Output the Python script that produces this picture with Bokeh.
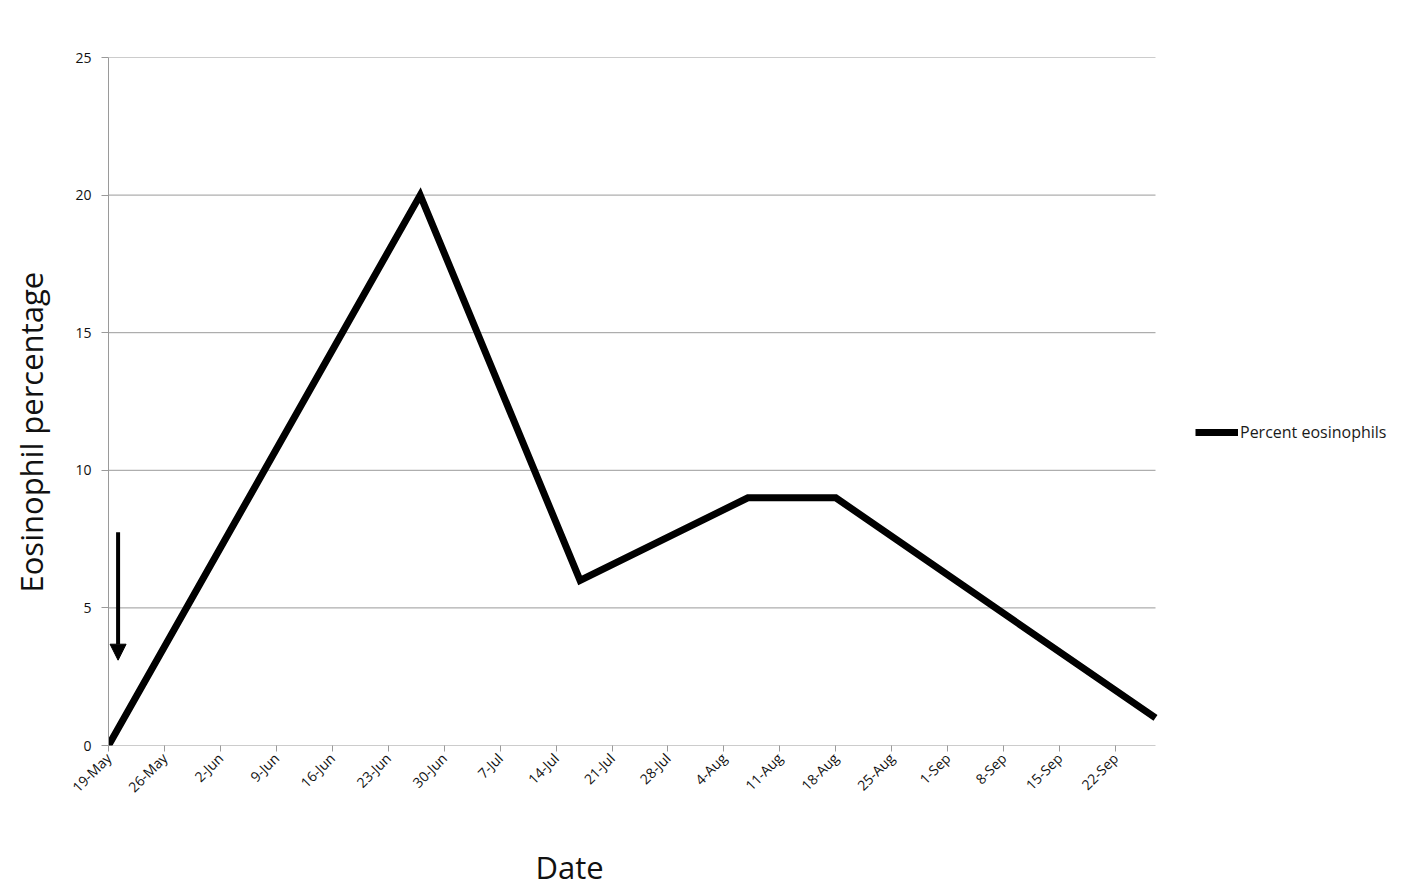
import pandas as pd
from bokeh.plotting import figure
from bokeh.models import (FixedTicker, Legend, LegendItem, Arrow, NormalHead,
                          Range1d, Title)
from bokeh.embed import file_html
from bokeh.resources import INLINE

YEAR = "2014"
dates = ["19-May", "27-Jun", "17-Jul", "7-Aug", "18-Aug", "27-Sep"]
percent = [0, 20, 6, 9, 9, 1]
tick_labels = ["19-May", "26-May", "2-Jun", "9-Jun", "16-Jun", "23-Jun", "30-Jun",
               "7-Jul", "14-Jul", "21-Jul", "28-Jul", "4-Aug", "11-Aug", "18-Aug",
               "25-Aug", "1-Sep", "8-Sep", "15-Sep", "22-Sep"]
y_ticks = [0, 5, 10, 15, 20, 25]
# treatment arrow (date offset in days from first date, y start, y end)
arrow_day = 1.2
arrow_y = [7.75, 3.1]

FONT = "Open Sans"
GRID = "#9a9a9a"

# layout (pixels)
W, H = 1410, 896
LEFT, TOP, RIGHT_AXIS_END, BOTTOM = 108, 57, 1155, 745
RIGHT_BORDER = 8


def to_dt(s):
    return pd.to_datetime(s + "-" + YEAR, format="%d-%b-%Y")


x = [to_dt(d) for d in dates]
tick_ms = [to_dt(t).value / 1e6 for t in tick_labels]
x0_ms = x[0].value / 1e6
x1_ms = x[-1].value / 1e6
frame_w = W - RIGHT_BORDER - LEFT
# extend the frame to the right so the legend can sit inside it
x_end_ms = x0_ms + (x1_ms - x0_ms) * frame_w / (RIGHT_AXIS_END - LEFT)

p = figure(width=W, height=H, x_axis_type="datetime",
           output_backend="svg", toolbar_location=None,
           min_border_left=LEFT, min_border_right=RIGHT_BORDER,
           min_border_top=TOP, min_border_bottom=H - BOTTOM)
p.x_range = Range1d(x0_ms, x_end_ms)
p.y_range = Range1d(0, 25)
p.outline_line_color = None
p.xgrid.grid_line_color = None
p.ygrid.grid_line_color = None

# horizontal gridlines and x axis line, limited to the date span
p.segment(x0=[x0_ms] * len(y_ticks), x1=[x1_ms] * len(y_ticks),
          y0=y_ticks, y1=y_ticks, line_color=GRID, line_width=1)

r = p.line(x, percent, line_color="black", line_width=7, line_join="miter")

# axes
xa = p.xaxis[0]
xa.ticker = FixedTicker(ticks=tick_ms)
xa.major_label_overrides = {t: lab for t, lab in zip(tick_ms, tick_labels)}
xa.major_label_orientation = 0.785398
xa.axis_line_color = None
xa.major_tick_line_color = GRID
xa.major_tick_in = 0
xa.major_tick_out = 6
xa.minor_tick_line_color = None
xa.major_label_text_font = FONT
xa.major_label_text_font_size = "14px"
xa.major_label_text_color = "#111111"
xa.major_label_standoff = 4
# spacer between tick labels and the title
xa.axis_label = " "
xa.axis_label_text_font_size = "1px"
xa.axis_label_standoff = 34

ya = p.yaxis[0]
ya.ticker = FixedTicker(ticks=y_ticks)
ya.axis_line_color = GRID
ya.major_tick_line_color = GRID
ya.major_tick_in = 0
ya.major_tick_out = 7
ya.minor_tick_line_color = None
ya.major_label_text_font = FONT
ya.major_label_text_font_size = "14px"
ya.major_label_text_color = "#111111"
ya.major_label_standoff = 10
ya.axis_label = " "
ya.axis_label_text_font_size = "1px"
ya.axis_label_standoff = 17

# axis titles (as titles so they can be offset like the original)
p.add_layout(Title(text="Date", align="left", offset=427, standoff=0,
                   text_font=FONT, text_font_size="31px",
                   text_font_style="normal", text_color="#111111"), "below")
p.add_layout(Title(text="Eosinophil percentage", align="left", offset=153,
                   standoff=0, text_font=FONT, text_font_size="31px",
                   text_font_style="normal", text_color="#111111"), "left")

# arrow annotation
ax = x0_ms + arrow_day * 86400000
p.add_layout(Arrow(end=NormalHead(size=16, fill_color="black", line_color="black"),
                   x_start=ax, y_start=arrow_y[0], x_end=ax, y_end=arrow_y[1],
                   line_width=4, line_color="black"))

legend = Legend(items=[LegendItem(label="Percent eosinophils", renderers=[r])],
                location=(1195 - LEFT, BOTTOM - 433 - 10), border_line_alpha=0,
                background_fill_alpha=0, padding=0, margin=0,
                glyph_width=43, glyph_height=20, label_standoff=2,
                label_text_font=FONT, label_text_font_size="16px",
                label_text_color="#1a1a1a")
p.add_layout(legend, "center")

open("out.html", "w").write(file_html(p, INLINE))
